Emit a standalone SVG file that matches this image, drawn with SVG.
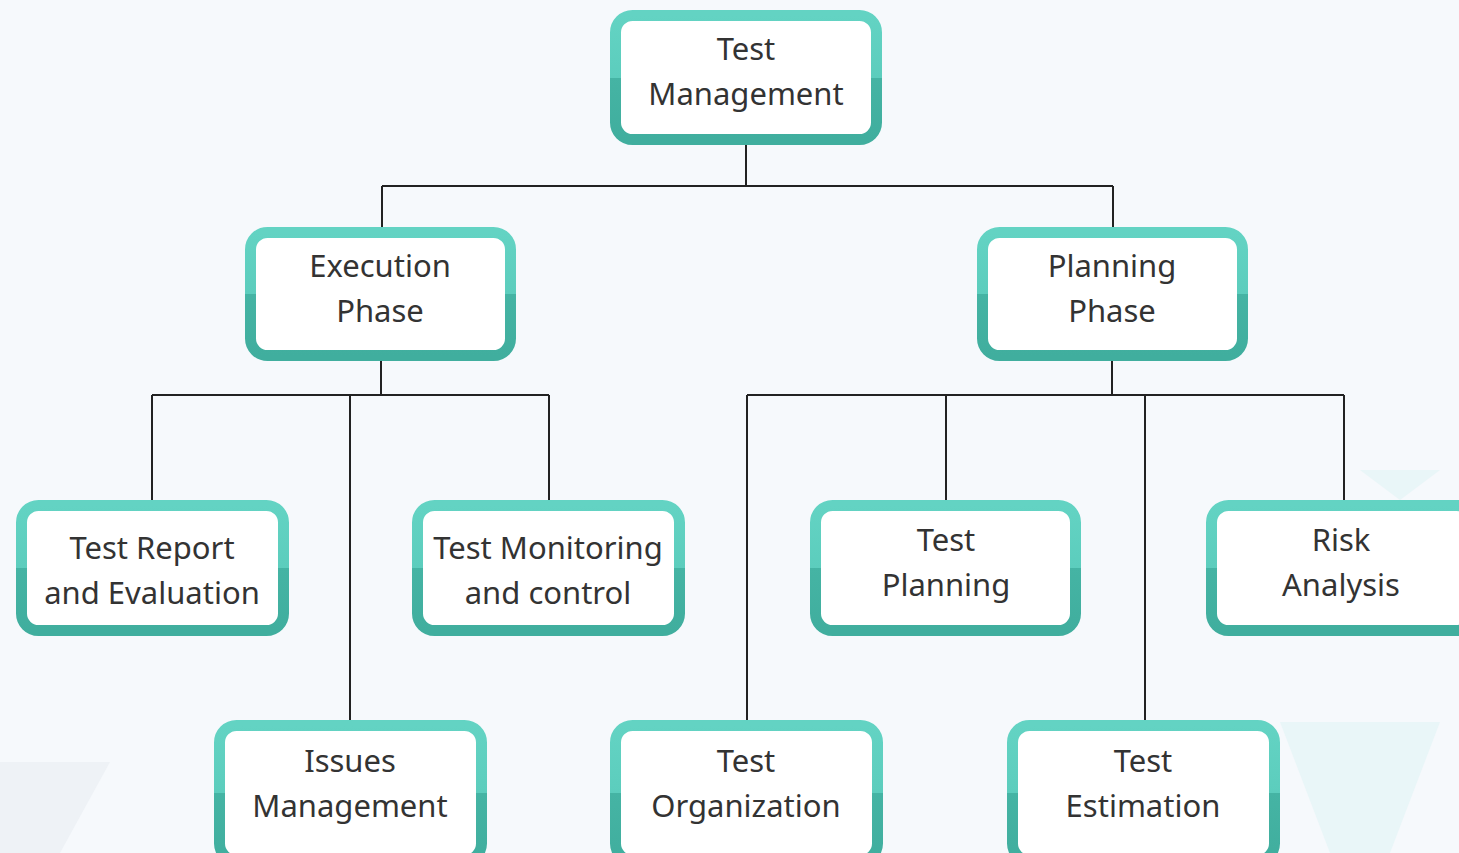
<svg xmlns="http://www.w3.org/2000/svg" width="1459" height="853" viewBox="0 0 1459 853">
<defs>
<linearGradient id="bord" x1="0" y1="0" x2="0" y2="1">
<stop offset="0" stop-color="#63d3c3"/>
<stop offset="0.5" stop-color="#5ccdbd"/>
<stop offset="0.5" stop-color="#45b4a4"/>
<stop offset="1" stop-color="#40ae9e"/>
</linearGradient>
<style>
.box{fill:#ffffff;stroke:url(#bord);stroke-width:11}
.lbl{font-family:"Noto Sans","Open Sans",sans-serif;font-size:31px;fill:#333333;text-anchor:middle}
.con{fill:none;stroke:#222222;stroke-width:2}
.deco{fill:#e9f6f8}
</style>
</defs>
<rect width="1459" height="853" fill="#f6f9fc"/>
<g id="decor">
<polygon points="0,762 110,762 60,853 0,853" fill="#eef2f6"/>
<polygon class="deco" points="1280,722 1440,722 1390,853 1330,853"/>
<polygon class="deco" points="1360,470 1440,470 1400,500"/>
</g>
<g id="connectors">
<path class="con" d="M746,145 V186 M382,186 H1113 M382,186 V227 M1113,186 V227"/>
<path class="con" d="M381,360 V395 M152,395 H549 M152,395 V500 M350,395 V720 M549,395 V500"/>
<path class="con" d="M1112,360 V395 M747,395 H1344 M747,395 V720 M946,395 V500 M1145,395 V720 M1344,395 V500"/>
</g>
<g id="test-management">
<rect class="box" x="615.5" y="15.5" width="261" height="124" rx="17"/>
<text class="lbl" x="746" y="60">Test</text>
<text class="lbl" x="746" y="105">Management</text>
</g>
<g id="execution-phase">
<rect class="box" x="250.5" y="232.5" width="260" height="123" rx="17"/>
<text class="lbl" x="380" y="277">Execution</text>
<text class="lbl" x="380" y="322">Phase</text>
</g>
<g id="planning-phase">
<rect class="box" x="982.5" y="232.5" width="260" height="123" rx="17"/>
<text class="lbl" x="1112" y="277">Planning</text>
<text class="lbl" x="1112" y="322">Phase</text>
</g>
<g id="test-report">
<rect class="box" x="21.5" y="505.5" width="262" height="125" rx="17"/>
<text class="lbl" x="152" y="559">Test Report</text>
<text class="lbl" x="152" y="604">and Evaluation</text>
</g>
<g id="test-monitoring">
<rect class="box" x="417.5" y="505.5" width="262" height="125" rx="17"/>
<text class="lbl" x="548" y="559">Test Monitoring</text>
<text class="lbl" x="548" y="604">and control</text>
</g>
<g id="test-planning">
<rect class="box" x="815.5" y="505.5" width="260" height="125" rx="17"/>
<text class="lbl" x="946" y="551">Test</text>
<text class="lbl" x="946" y="596">Planning</text>
</g>
<g id="risk-analysis">
<rect class="box" x="1211.5" y="505.5" width="262" height="125" rx="17"/>
<text class="lbl" x="1341" y="551">Risk</text>
<text class="lbl" x="1341" y="596">Analysis</text>
</g>
<g id="issues-management">
<rect class="box" x="219.5" y="725.5" width="262" height="135" rx="17"/>
<text class="lbl" x="350" y="772">Issues</text>
<text class="lbl" x="350" y="817">Management</text>
</g>
<g id="test-organization">
<rect class="box" x="615.5" y="725.5" width="262" height="135" rx="17"/>
<text class="lbl" x="746" y="772">Test</text>
<text class="lbl" x="746" y="817">Organization</text>
</g>
<g id="test-estimation">
<rect class="box" x="1012.5" y="725.5" width="262" height="135" rx="17"/>
<text class="lbl" x="1143" y="772">Test</text>
<text class="lbl" x="1143" y="817">Estimation</text>
</g>
</svg>
